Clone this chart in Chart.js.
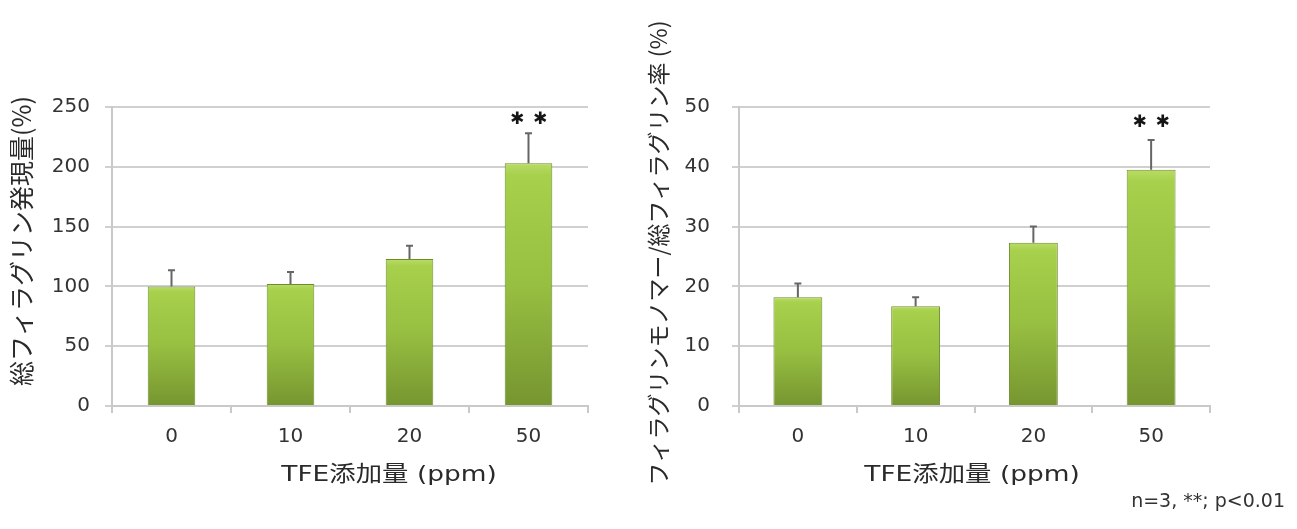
<!DOCTYPE html>
<html><head><meta charset="utf-8">
<script src="https://cdn.jsdelivr.net/npm/chart.js@4"></script>
<style>
html,body{margin:0;padding:0;background:#fff;width:1297px;height:529px;overflow:hidden;position:relative}
canvas{position:absolute;top:0}
#note{position:absolute;right:12px;top:489px;font:19px "DejaVu Sans";color:#333;line-height:22px;white-space:nowrap}
</style></head><body>
<canvas id="c1" width="640" height="529" style="left:0"></canvas>
<canvas id="c2" width="657" height="529" style="left:640px"></canvas>
<div id="note">n=3, **; p&lt;0.01</div>
<script>
// ---- data ----
const categories = ['0', '10', '20', '50'];
const totalExpression = [100, 102, 123, 203];
const totalExpressionErr = [13.5, 10, 11, 25];
const monomerRatio = [18.2, 16.7, 27.3, 39.5];
const monomerRatioErr = [2.3, 1.5, 2.7, 5.0];
const significant = [false, false, false, true];
const leftTickMax = 250, leftTickStep = 50;
const rightTickMax = 50, rightTickStep = 10;
const leftYTitle = '総フィラグリン発現量(%)';
const rightYTitle = 'フィラグリンモノマー/総フィラグリン率 (%)';
const xTitle = 'TFE添加量 (ppm)';
const markGlyph = '✱';

function barGradient(ctx) {
  const chart = ctx.chart, area = chart.chartArea;
  if (!area || ctx.type !== 'data') return '#9cc544';
  const y = chart.scales.y;
  const top = y.getPixelForValue(ctx.raw), bottom = y.getPixelForValue(0);
  const g = chart.ctx.createLinearGradient(0, top, 0, bottom);
  g.addColorStop(0, '#b8dc66');
  g.addColorStop(0.05, '#a7d04c');
  g.addColorStop(0.5, '#97bf41');
  g.addColorStop(1, '#769530');
  return g;
}

const decoPlugin = {
  id: 'deco',
  afterDatasetsDraw(chart, args, o) {
    const meta = chart.getDatasetMeta(0), y = chart.scales.y, c = chart.ctx;
    const data = chart.data.datasets[0].data;
    c.save();
    c.strokeStyle = '#666666'; c.lineWidth = 2;
    o.errors.forEach((e, i) => {
      const el = meta.data[i];
      const yb = y.getPixelForValue(data[i]), yt = y.getPixelForValue(data[i] + e);
      c.beginPath();
      c.moveTo(el.x, yb); c.lineTo(el.x, yt);
      c.moveTo(el.x - 3.5, yt); c.lineTo(el.x + 3.5, yt);
      c.stroke();
      if (o.marks[i]) {
        c.fillStyle = '#151515';
        c.font = '17px "DejaVu Sans"';
        c.textAlign = 'center'; c.textBaseline = 'middle';
        c.fillText(markGlyph, el.x - 11.5, yt - o.markGap);
        c.fillText(markGlyph, el.x + 11.5, yt - o.markGap);
      }
    });
    c.restore();
  },
  afterDraw(chart, args, o) {
    const c = chart.ctx;
    c.save();
    c.fillStyle = '#2a2a2a';
    c.textAlign = 'center'; c.textBaseline = 'middle';
    c.save();
    c.translate(o.yTitleX, o.yTitleY);
    c.rotate(-Math.PI / 2);
    c.font = o.yTitleSize + 'px "Noto Sans CJK JP"';
    c.fillText(o.yTitle, 0, 0);
    c.restore();
    c.save();
    c.translate(o.xTitleX, o.xTitleY);
    c.scale(1.2, 1);
    c.font = '22px "DejaVu Sans", "Noto Sans CJK JP"';
    c.fillText(o.xTitle, 0, 0);
    c.restore();
    c.restore();
  }
};

function makeChart(id, values, errs, cfg) {
  return new Chart(document.getElementById(id), {
    type: 'bar',
    data: { labels: categories, datasets: [{
      data: values,
      backgroundColor: barGradient,
      borderColor: '#6f8c2b',
      borderWidth: 1,
      barPercentage: cfg.barPct,
      categoryPercentage: 1
    }]},
    options: {
      responsive: false,
      animation: false,
      devicePixelRatio: 1,
      layout: { padding: { left: 0, right: cfg.padRight, top: 107, bottom: 0 } },
      plugins: {
        legend: { display: false }, tooltip: { enabled: false },
        deco: {
          errors: errs, marks: significant, markGap: cfg.markGap,
          yTitle: cfg.yTitle, yTitleX: cfg.yTitleX, yTitleY: cfg.yTitleY, yTitleSize: cfg.yTitleSize,
          xTitle: xTitle, xTitleX: cfg.xTitleX, xTitleY: 475
        }
      },
      scales: {
        x: {
          afterFit: s => { s.height = 123; },
          grid: { display: true, drawOnChartArea: false, color: '#c9c9c9', lineWidth: 2, tickLength: 7, offset: true },
          border: { color: '#c9c9c9', width: 2 },
          ticks: { color: '#333333', font: { family: '"DejaVu Sans"', size: 20 }, padding: 12 }
        },
        y: {
          min: 0, max: cfg.max,
          afterFit: s => { s.width = cfg.yWidth; },
          grid: { color: '#d0d0d0', lineWidth: 2, tickLength: 7 },
          border: { color: '#c9c9c9', width: 2 },
          ticks: { stepSize: cfg.step, color: '#333333', font: { family: '"DejaVu Sans"', size: 20 }, padding: cfg.tickPad }
        }
      }
    },
    plugins: [decoPlugin]
  });
}

makeChart('c1', totalExpression, totalExpressionErr, {
  max: leftTickMax, step: leftTickStep, yWidth: 112, padRight: 52, tickPad: 15, barPct: 0.40,
  markGap: 14, yTitle: leftYTitle, yTitleX: 21, yTitleY: 241, yTitleSize: 25, xTitleX: 389
});
makeChart('c2', monomerRatio, monomerRatioErr, {
  max: rightTickMax, step: rightTickStep, yWidth: 99, padRight: 87, tickPad: 22, barPct: 0.415,
  markGap: 17, yTitle: rightYTitle, yTitleX: 18, yTitleY: 253, yTitleSize: 23, xTitleX: 332
});
</script>
</body></html>
